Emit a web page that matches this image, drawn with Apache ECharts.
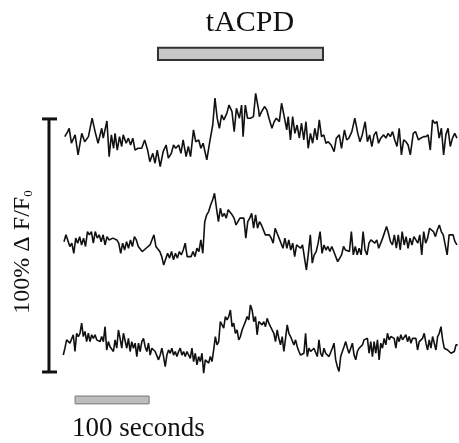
<!DOCTYPE html>
<html>
<head>
<meta charset="utf-8">
<script src="https://cdn.jsdelivr.net/npm/echarts@6/dist/echarts.min.js"></script>
<style>
html, body { margin: 0; padding: 0; background: #fff; }
#chartmain { width: 459px; height: 443px; }
</style>
</head>
<body>
<div id="chartmain"></div>
<script>
// readings in % dF/F, each trace relative to its own baseline; time in seconds
var trace1Time = [1, 5, 7, 10, 15, 19, 24, 28, 33, 38,
    42, 46, 51, 53, 58, 61, 64, 67, 69, 72,
    75, 78, 80, 84, 87, 90, 93, 96, 100, 105,
    109, 113, 116, 120, 123, 126, 130, 134, 138, 141,
    145, 148, 151, 155, 158, 161, 165, 168, 171, 175,
    178, 182, 185, 188, 193, 197, 201, 204, 207, 210,
    213, 216, 220, 223, 227, 230, 233, 237, 240, 242,
    245, 248, 252, 256, 259, 263,
    264, 267, 271, 274, 277, 281, 284, 287, 291, 294,
    298, 301, 303, 306, 309, 312, 315, 318, 321, 324,
    327, 330, 333, 336, 339, 342, 345, 348, 351, 354,
    357, 361, 365, 368, 372, 375, 379, 382, 385, 389,
    393, 397, 400, 403, 407, 410, 413, 416, 419, 422,
    425, 428, 432, 435, 438, 441, 444, 447, 450, 453,
    456, 459, 462, 465, 468, 472, 475, 479, 482, 486,
    489, 492, 495, 498, 501, 504, 507, 510, 513, 516,
    519, 522, 525, 528, 531];
var trace1 = [1.3, 3.3, 4.6, -1.3, 2.0, -5.9, 2.6, -0.7, 1.3, 8.6,
    3.3, -1.3, 4.6, 0.7, 7.5, -6.6, 2.0, -3.3, 2.6, -4.0,
    1.3, -2.6, 2.0, -1.3, 0.7, -2.0, 0.7, -4.0, -3.3, -3.3,
    0, -4.0, -8.6, -5.3, -9.2, -4.0, -10.5, -4.6, -2.0, -7.2,
    -5.3, -2.0, -3.3, -2.0, -5.3, 0, -6.6, -2.6, -6.6, 4.0,
    -0.7, 0, -3.3, -1.3, -7.9, -0.7, 5.9, 16.5, 8.6, 4.6,
    9.9, 7.9, 10.5, 13.8, 11.2, 3.3, 12.5, 8.6, 13.8, 1.3,
    13.8, 8.6, 8.6, 9.2, 18.4, 11.9,
    9.2, 11.2, 13.2, 11.9, 8.6, 4.6, 7.2, 8.6, 7.2, 14.5,
    8.6, 4.0, 9.2, 0, 9.2, 2.6, 5.9, 0.7, 6.6, 0,
    7.2, -3.3, 2.6, -1.3, 4.6, 0, 7.9, 1.3, 2.0, -1.3,
    -0.7, -2.0, -4.6, 0.7, 2.0, -3.3, 4.0, 0, 0.7, 3.3,
    8.6, 2.6, -0.7, 2.0, 7.2, -0.7, 2.0, -2.6, 2.0, 3.3,
    -1.3, 0.7, 2.0, 0.7, 2.6, 1.3, 3.3, 0, -2.6, 4.6,
    -5.9, 0, -0.7, -2.0, -5.9, 2.6, 3.3, 0, 0.7, 1.3,
    1.3, 2.0, -4.0, 7.9, 6.6, 7.2, 0.7, 4.6, -5.9, 2.0,
    4.6, -2.6, 0.7, 2.6, 0.7];

// traces 2 and 3 are evenly sampled over their span
var trace2Span = [0, 531];
var trace2 = [-0.7, 2.0, 2.6, -2.6, -1.3, -5.3, 0.7, -1.3, 1.3, -2.0,
    0.7, -2.6, 3.3, 2.0, 3.3, -1.3, 3.3, 0.7, 2.0, -0.7,
    2.0, -2.0, 1.3, 0, 0.7, 0.7, 1.3, 0, -1.3, -5.3,
    -1.3, -4.0, -0.7, -3.3, 0, -2.6, 1.3, 0, -2.6, -2.6,
    -4.6, -4.6, -3.3, -4.0, -2.0, -2.6, 2.0, -2.6, -3.3, -4.6,
    -6.6, -9.9, -9.9, -5.3, -7.2, -4.6, -7.9, -5.3, -7.2, -4.6,
    -5.9, -4.0, -1.3, -6.6, -5.9, -6.6, -4.6, -6.6, -3.3, -4.6,
    0, -5.3, 7.2, 9.9, 11.2, 13.8, 15.8, 18.4, 12.5, 7.2,
    12.5, 9.2, 10.5, 8.6, 11.9, 11.2, 9.9, 8.6, 5.9, 5.9,
    8.6, 7.9, 8.6, 0.7, 7.2, 8.6,
    10.5, 4.6, 9.9, 4.6, 7.2, 5.9, 5.3, 2.0, 1.3, 2.0,
    0.7, -1.3, 4.6, 2.6, 0.7, 1.3, -3.3, 0.7, -3.3, 0,
    -4.0, -1.3, -6.6, -2.0, -1.3, -3.3, -2.0, -2.6, -11.9, -5.3,
    2.0, -9.2, -5.9, -4.6, -1.3, 3.3, -5.3, -2.0, -4.0, -2.6,
    -4.6, -2.6, -4.6, -6.6, -8.6, -9.2, -5.9, -2.6, -4.0, -3.3,
    -4.6, 3.3, -5.9, -2.6, -5.9, -3.3, -5.9, 3.3, -4.0, -5.9,
    -1.3, 0, 0.7, -1.3, 0, -3.3, -4.0, 0.7, 0, 5.3,
    2.6, -0.7, -2.0, 2.0, -3.3, 2.0, -4.0, 3.3, -2.0, 1.3,
    -3.3, 0.7, -2.0, 1.3, 2.0, -1.3, 2.0, -5.9, 3.3, -1.3,
    0.7, 4.6, 5.3, 3.3, 1.3, 4.0, 5.9, 3.3, 2.0, 2.6,
    -5.9, 2.0, 1.3, 2.0, -0.7, -2.0];

var trace3Span = [-1, 532];
var trace3 = [-4.0, -1.3, 2.0, 2.6, 0.7, 0, 4.0, -2.6, 4.6, 3.3,
    4.6, 8.6, 3.3, 5.3, 1.3, 4.6, 1.3, 4.0, 2.6, 4.0,
    2.0, 2.6, 1.3, 3.3, 1.3, 7.2, -2.0, 1.3, -0.7, 0,
    -2.6, 2.0, -1.3, 5.9, 2.6, -1.3, 4.6, 4.6, -1.3, 2.6,
    -2.6, 1.3, -1.3, 0.7, -4.6, 0.7, -2.6, 1.3, 2.6, -0.7,
    -2.6, 0.7, -4.0, -1.3, -2.0, -2.6, -3.3, -5.9, -4.0, -1.3,
    -4.6, -8.6, -4.0, -2.0, -3.3, -1.3, -4.0, -2.6, -4.6, -2.6,
    -1.3, -4.0, -2.6, -4.6, -2.6, -3.3, -5.3, -1.3, -6.6, -3.3,
    -7.9, -4.6, -6.6, -3.3, -11.2, -5.9, -5.3, -7.2, -4.6, -6.6,
    -2.0, 3.3, 0, 1.3, 9.2, 9.9, 6.6, 11.2, 9.9, 11.2,
    13.8, 7.2, 8.6, 4.6, 5.9, 2.0, 3.3, 5.9, 6.6, 9.2,
    11.2, 9.9, 15.8, 13.8, 9.2, 11.2, 4.0,
    9.2, 8.6, 7.9, 9.2, 7.2, 10.5, 8.6, 7.2, 7.9, 4.6,
    1.3, 5.9, 2.6, 0, 3.3, -2.6, 2.6, 7.9, 4.6, 3.3,
    4.0, 0, 2.0, -0.7, -2.6, -4.0, -4.6, -3.3, 4.6, -4.6,
    -1.3, -2.6, -2.0, -1.3, -2.0, -4.6, 2.0, -3.3, -4.6, -1.3,
    -3.3, -4.0, -4.6, -4.0, -1.3, 0.7, -5.9, -8.6, -10.5, -4.6,
    -2.6, -0.7, 1.3, -1.3, -3.3, -1.3, 0.7, -4.0, -5.9, -2.6,
    -1.3, -2.0, 0, 2.0, 1.3, 2.6, -3.3, 1.3, -4.6, 1.3,
    -3.3, 2.0, -5.9, 0.7, -1.3, 2.6, 0, 4.6, 2.0, 3.3,
    4.0, 2.6, -1.3, 3.3, 1.3, 4.0, 2.0, 2.6, 4.0, 1.3,
    3.3, 0.7, 2.6, 2.0, 2.6, -2.0, 1.3, 0.7, 2.6, 4.6,
    0.7, -2.0, 2.0, -1.3, 3.3, 2.6, -2.0, 3.3, 4.6, 7.2,
    2.0, -1.3, -1.3, -2.0, -2.0, -3.3, -4.0, -2.6, 0, 0];

var drugName = 'tACPD';
var drugPeriod = [127, 350];     // seconds
var timeBar = [15, 115];         // 100 s
var timeBarLabel = '100 seconds';
var ampBar = [0, 100];           // 100 % dF/F
var traceOffset = [91.7, 52.2, 10.7];

var serif = '"Liberation Serif", "Times New Roman", serif';

function pairs(times, values, offset) {
    return values.map(function (v, i) { return [times[i], v + offset]; });
}
function spread(values, span, offset) {
    var step = (span[1] - span[0]) / (values.length - 1);
    return values.map(function (v, i) { return [span[0] + i * step, v + offset]; });
}

function traceSeries(data) {
    return {
        type: 'line', data: data, symbol: 'none', silent: true,
        lineStyle: { color: '#111', width: 1.6 }
    };
}

function barRender(yTop, yBottom, fill, stroke, lw) {
    return function (params, api) {
        var a = api.coord([api.value(0), yTop]);
        var b = api.coord([api.value(1), yBottom]);
        return {
            type: 'rect',
            shape: { x: a[0], y: a[1], width: b[0] - a[0], height: b[1] - a[1] },
            style: { fill: fill, stroke: stroke, lineWidth: lw }
        };
    };
}

var chart = echarts.init(document.getElementById('chartmain'), null, { renderer: 'canvas' });
chart.setOption({
    animation: false,
    grid: { left: 0, right: 0, top: 0, bottom: 0 },
    xAxis: { type: 'value', min: -86.5, max: 533.8, show: false },
    yAxis: { type: 'value', min: -28.06, max: 147.0, show: false },
    graphic: [
        { type: 'text', x: 250, y: 23, style: { text: drugName, font: '30px ' + serif, fill: '#111', textAlign: 'center', textVerticalAlign: 'middle' } },
        { type: 'text', x: 72, y: 429, style: { text: timeBarLabel, font: '27px ' + serif, fill: '#111', textAlign: 'left', textVerticalAlign: 'middle' } },
        { type: 'text', x: 23, y: 252, rotation: Math.PI / 2,
          style: { text: '{m|100% \u0394 F/F}{s|0}', fill: '#111', textAlign: 'center', textVerticalAlign: 'middle',
            rich: { m: { fontSize: 24, fontFamily: serif }, s: { fontSize: 13, fontFamily: serif, padding: [12, 0, 0, 0] } } } }
    ],
    series: [
        traceSeries(pairs(trace1Time, trace1, traceOffset[0])),
        traceSeries(spread(trace2, trace2Span, traceOffset[1])),
        traceSeries(spread(trace3, trace3Span, traceOffset[2])),
        { type: 'custom', silent: true, data: [drugPeriod], renderItem: barRender(128.1, 123.3, '#c8c8c8', '#333', 2) },
        { type: 'custom', silent: true, data: [timeBar], renderItem: barRender(-9.5, -12.6, '#bdbdbd', '#777', 1) },
        { type: 'custom', silent: true, data: [ampBar], renderItem: function (params, api) {
            var lo = api.coord([-20.3, api.value(0)]);
            var hi = api.coord([-20.3, api.value(1)]);
            var l = api.coord([-29.7, 0])[0], r = api.coord([-9.5, 0])[0];
            var st = { stroke: '#111', lineWidth: 3 };
            return { type: 'group', children: [
                { type: 'line', shape: { x1: lo[0], y1: lo[1], x2: hi[0], y2: hi[1] }, style: st },
                { type: 'line', shape: { x1: l, y1: lo[1], x2: r, y2: lo[1] }, style: st },
                { type: 'line', shape: { x1: l, y1: hi[1], x2: r, y2: hi[1] }, style: st }
            ] };
        } }
    ]
});
</script>
</body>
</html>
